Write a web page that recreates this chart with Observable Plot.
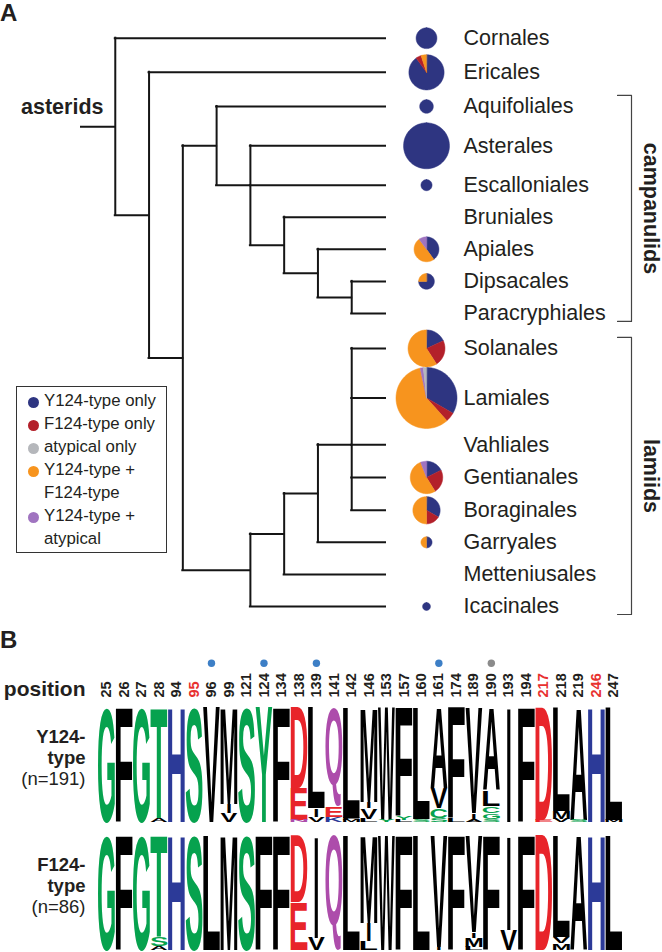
<!DOCTYPE html>
<html><head><meta charset="utf-8">
<script src="https://cdn.jsdelivr.net/npm/d3@7"></script>
<script src="https://cdn.jsdelivr.net/npm/@observablehq/plot@0.6"></script>
<style>
body{margin:0;background:#fff;font-family:"Liberation Sans",Arial,Helvetica,sans-serif;color:#231f20}
#wrap{position:relative;width:662px;height:952px;overflow:hidden;background:#fff}
#plotA svg,#plotB svg{display:block}
.panel{position:absolute;font-weight:bold;font-size:24px;line-height:1}
#legend{position:absolute;left:16px;top:386px;width:151px;height:167px;border:1px solid #333;box-sizing:border-box}
#legend .t{position:absolute;font-size:16.8px;line-height:1;white-space:nowrap}
#legend .d{position:absolute;width:11px;height:11px;border-radius:50%}
</style></head><body>
<div id="wrap">
  <div id="plotA"></div>
  <div id="plotB"></div>
  <div class="panel" style="left:0px;top:1px">A</div>
  <div class="panel" style="left:0px;top:628px">B</div>
  <div id="legend"></div>
</div>
<script>
// ================= DATA =================
// Panel A: orders (tree leaves, top to bottom)
const orders = ["Cornales","Ericales","Aquifoliales","Asterales","Escalloniales","Bruniales","Apiales","Dipsacales","Paracryphiales","Solanales","Lamiales","Vahliales","Gentianales","Boraginales","Garryales","Metteniusales","Icacinales"];
// number of sequences per category (pie slices, drawn clockwise from 12 o'clock in this order)
const yOnly    = [7,18,3,34,2,0,4,3,0,4,20,0,3,4,1,0,1];
const fOnly    = [0,1,0,0,0,0,0,0,0,5,3,0,4,2,0,0,0];
const yAndF    = [0,1,0,0,0,0,5,1,0,13,35,0,9,6,1,0,0];
const yAndAtyp = [0,0,0,0,0,0,1,0,0,0,1,0,1,0,0,0,0];
const atypOnly = [0,0,0,0,0,0,0,0,0,0,1,0,0,0,0,0,0];
const sliceSeries = [["Y124-type only", yOnly], ["F124-type only", fOnly], ["Y124-type + F124-type", yAndF], ["Y124-type + atypical", yAndAtyp], ["atypical only", atypOnly]];
const legendKeys  = ["Y124-type only","F124-type only","atypical only","Y124-type + F124-type","Y124-type + atypical"];
const legendLines = [["Y124-type only"],["F124-type only"],["atypical only"],["Y124-type +","F124-type"],["Y124-type +","atypical"]];
const catColor = {"Y124-type only":"#2e3581","F124-type only":"#b3202a","atypical only":"#b5b7bb","Y124-type + F124-type":"#f7941e","Y124-type + atypical":"#a074c0"};
// cladogram topology (nested lists)
const topology = ["Cornales", ["Ericales", [["Aquifoliales", ["Asterales","Escalloniales", ["Bruniales", ["Apiales", ["Dipsacales","Paracryphiales"]]]]], [[[["Solanales","Lamiales","Vahliales","Gentianales","Boraginales"],"Garryales"],"Metteniusales"],"Icacinales"]]]];
const rootName = "asterids";
const cladeNames = ["campanulids","lamiids"];
const cladeFirst = ["Aquifoliales","Solanales"];
const cladeLast  = ["Paracryphiales","Icacinales"];

// Panel B: sequence logos
const positions = ["25","26","27","28","94","95","96","99","121","124","134","138","139","141","142","146","153","157","160","161","174","189","190","193","194","217","218","219","246","247"];
const redPositions = ["95","217","246"];
const bluePositions = ["96","124","139","161"];
const greyPositions = ["190"];
const rowKeys = ["Y124","F124"];
const rowTitle = ["Y124-","F124-"];
const rowSub = ["type","type"];
const rowN = ["(n=191)","(n=86)"];
// residue:probability, top to bottom within each column
const logoY124 = ["G:1","F:1","G:1","T:.96 A:.04","H:1","S:1","V:1","M:.84 I:.08 V:.08","S:1","Y:1","F:1","D:.7 E:.28 N:.02","L:.88 I:.07 V:.05","Q:.86 E:.09 K:.05","L:.96 F:.02 M:.02","M:.82 I:.06 V:.09 L:.03","W:.98 Y:.02","F:.95 Y:.03 L:.02","L:.97 S:.03","A:.7 V:.18 C:.08 S:.04","F:.97 L:.03","V:.92 I:.05 A:.03","A:.72 L:.14 C:.06 G:.05 S:.03","I:1","F:1","D:.98 E:.02","L:.9 M:.07 V:.03","A:.98 S:.02","H:1","L:.98 M:.02"];
const logoF124 = ["G:1","F:1","G:1","T:.88 S:.08 A:.04","H:1","S:1","L:1","M:1","S:1","F:1","F:1","D:.58 E:.42","I:.89 V:.11","Q:1","L:1","M:.76 I:.16 L:.08","W:1","F:1","L:1","V:.97 I:.03","F:1","V:.84 I:.05 M:.08 L:.03","F:1","I:.82 V:.18","F:1","D:1","L:.88 V:.06 M:.06","A:1","H:1","L:1"];
const aaGroups = [["GSTYC","#06a24e"],["NQ","#ad4cab"],["KRH","#2c3a98"],["DE","#e8242a"]];

// ================= PANEL A =================
const FONT = '"Liberation Sans", Arial, Helvetica, sans-serif';
const X0 = 81, X9 = 385, YTOP = 37.7, YBOT = 606;
const PIE_DX = 41, LABEL_DX = 78, BR_IN = 232, BR_OUT = 246, CLADE_DX = 265;

const totals = orders.map((_, i) => d3.sum(sliceSeries, s => s[1][i]));
const rScale = d3.scaleSqrt().domain([0, 60]).range([0, 30.5]);
const radius = totals.map(t => rScale(t));
const half = radius.map(r => Math.max(16.5, r + 1));
const cum = [0];
for (let i = 1; i < orders.length; i++) cum.push(cum[i-1] + half[i-1] + half[i]);
const leafY = Object.fromEntries(orders.map((o, i) => [o, cum[i]]));

const root = d3.hierarchy(topology, d => Array.isArray(d) ? d : null);
const depthMax = root.height + 1;
root.eachAfter(n => {
  if (!n.children) n.ly = leafY[n.data];
  else {
    const ys = n.children.map(c => c.ly).sort((a, b) => a - b), m = ys.length;
    n.ly = m % 2 ? ys[(m - 1) / 2] : (ys[m/2 - 1] + ys[m/2]) / 2;
  }
  n.lx = depthMax - n.height;
});
const kx = (X9 - X0) / depthMax;
const ky = (YBOT - YTOP) / (cum[cum.length-1] - cum[0]);

const hSegs = [{y: root.ly, x1: 0, x2: root.lx}];
const vSegs = [];
root.each(n => {
  if (n.parent) hSegs.push({y: n.ly, x1: n.parent.lx, x2: n.lx});
  if (n.children) {
    const ys = n.children.map(c => c.ly);
    vSegs.push({x: n.lx, y1: d3.min(ys), y2: d3.max(ys)});
  }
});
const leaves = root.leaves().map(n => ({name: n.data, x: n.lx, y: n.ly}));

const piePts = [];
orders.forEach((o, i) => {
  const tot = totals[i]; if (!tot) return;
  const r = radius[i], cx = depthMax + PIE_DX / kx, cy = leafY[o];
  let acc = 0;
  sliceSeries.forEach(([cat, vals]) => {
    const v = vals[i]; if (!v) return;
    const a0 = acc / tot * 2 * Math.PI, a1 = (acc + v) / tot * 2 * Math.PI; acc += v;
    const key = o + "|" + cat;
    const n = Math.max(3, Math.ceil((a1 - a0) / (2 * Math.PI) * 120));
    if (v !== tot) piePts.push({key, cat, x: cx, y: cy});
    for (let k = 0; k <= n; k++) {
      const a = a0 + (a1 - a0) * k / n;
      piePts.push({key, cat, x: cx + r * Math.sin(a) / kx, y: cy - r * Math.cos(a) / ky});
    }
  });
});

const brPts = [], cladeLab = [];
cladeNames.forEach((name, i) => {
  const top = leafY[cladeFirst[i]] - 11 / ky, bot = leafY[cladeLast[i]] + 8 / ky;
  const xi = depthMax + BR_IN / kx, xo = depthMax + BR_OUT / kx;
  brPts.push({name, x: xi, y: top}, {name, x: xo, y: top}, {name, x: xo, y: bot}, {name, x: xi, y: bot});
  cladeLab.push({name, x: depthMax + CLADE_DX / kx, y: (top + bot) / 2});
});

const plotA = Plot.plot({
  width: 662, height: 625, margin: 0,
  x: {domain: [0, depthMax], range: [X0, X9], axis: null},
  y: {domain: [cum[0], cum[cum.length-1]], range: [YTOP, YBOT], axis: null},
  color: {type: "identity"},
  style: {fontFamily: FONT, background: "transparent"},
  marks: [
    Plot.ruleY(hSegs, {y: "y", x1: "x1", x2: "x2", stroke: "#151515", strokeWidth: 2, strokeLinecap: "square"}),
    Plot.ruleX(vSegs, {x: "x", y1: "y1", y2: "y2", stroke: "#151515", strokeWidth: 2, strokeLinecap: "square"}),
    Plot.line(piePts, {x: "x", y: "y", z: "key", fill: d => catColor[d.cat], stroke: d => catColor[d.cat], strokeWidth: 0.5, curve: "linear-closed"}),
    Plot.text(leaves, {x: "x", y: "y", text: "name", dx: LABEL_DX, textAnchor: "start", fontSize: 21.5, fill: "#231f20"}),
    Plot.text([{x: 0, y: root.ly, t: rootName}], {x: "x", y: "y", text: "t", textAnchor: "end", dx: 22, dy: -20, fontSize: 21.5, fontWeight: "bold", fill: "#231f20"}),
    Plot.line(brPts, {x: "x", y: "y", z: "name", stroke: "#444", strokeWidth: 1.2}),
    Plot.text(cladeLab, {x: "x", y: "y", text: "name", rotate: 90, fontSize: 21.5, fontWeight: "bold", fill: "#231f20"})
  ]
});
document.getElementById("plotA").appendChild(plotA);

// legend (inside panel A, as in the reference)
const legend = document.getElementById("legend");
let line = 0;
legendKeys.forEach((k, i) => {
  const dot = document.createElement("div");
  dot.className = "d"; dot.style.background = catColor[k];
  dot.style.left = (16 - 5.5) + "px"; dot.style.top = (15.7 + line * 22.9 - 5.5) + "px";
  legend.appendChild(dot);
  legendLines[i].forEach(txt => {
    const t = document.createElement("div");
    t.className = "t"; t.textContent = txt;
    t.style.left = "27px"; t.style.top = (15.7 + line * 22.9 - 9.5) + "px";
    legend.appendChild(t);
    line++;
  });
});

// ================= PANEL B =================
const aaColor = aa => { for (const [s, c] of aaGroups) if (s.includes(aa)) return c; return "#000"; };
const letters = [];
[logoY124, logoF124].forEach((cols, r) => {
  cols.forEach((col, i) => {
    let top = 1;
    col.split(" ").forEach(tok => {
      const [aa, f] = tok.split(":"); const p = +f;
      letters.push({row: rowKeys[r], pos: positions[i], aa, p, y: top - p / 2});
      top -= p;
    });
  });
});
const posLab = positions.map(p => ({row: rowKeys[0], pos: p, col: redPositions.includes(p) ? "#e8312f" : "#231f20"}));
const marks = [
  ...bluePositions.map(p => ({row: rowKeys[0], pos: p, c: "#3d7fc6"})),
  ...greyPositions.map(p => ({row: rowKeys[0], pos: p, c: "#8b8b8b"}))
];
const rowLab = rowKeys.map((k, i) => ({row: k, a: rowTitle[i], b: rowSub[i], n: rowN[i]}));

const plotB = Plot.plot({
  width: 662, height: 327,
  marginLeft: 97.3, marginRight: 40, marginTop: 82, marginBottom: 2,
  x: {type: "band", domain: positions, padding: 0, round: false, axis: null},
  y: {domain: [0, 1], axis: null},
  fy: {domain: rowKeys, axis: null, paddingInner: 0.1016, paddingOuter: 0, round: false},
  color: {type: "identity"},
  style: {fontFamily: FONT, background: "transparent"},
  marks: [
    Plot.text(letters, {x: "pos", y: "y", fy: "row", text: "aa", fill: d => aaColor(d.aa), fontSize: d => d.p * 100, fontWeight: "bold", fontFamily: FONT, ariaDescription: "logo"}),
    Plot.text(posLab, {x: "pos", y: 1, fy: "row", text: "pos", fill: "col", rotate: -90, textAnchor: "start", dy: -10, fontSize: 14.5, fontWeight: "bold"}),
    Plot.dot(marks, {x: "pos", y: 1, fy: "row", fill: "c", r: 3.7, dy: -44.3, stroke: null}),
    Plot.text([{row: rowKeys[0], t: "position"}], {y: 1, fy: "row", frameAnchor: "left", text: "t", textAnchor: "end", dx: -12.3, dy: -18, fontSize: 21, fontWeight: "bold", fill: "#231f20"}),
    Plot.text(rowLab, {y: 0.5, fy: "row", frameAnchor: "left", text: "a", textAnchor: "end", dx: -12.3, dy: -28, fontSize: 18.5, fontWeight: "bold", fill: "#231f20"}),
    Plot.text(rowLab, {y: 0.5, fy: "row", frameAnchor: "left", text: "b", textAnchor: "end", dx: -12.3, dy: -7, fontSize: 18.5, fontWeight: "bold", fill: "#231f20"}),
    Plot.text(rowLab, {y: 0.5, fy: "row", frameAnchor: "left", text: "n", textAnchor: "end", dx: -12.3, dy: 14, fontSize: 18.5, fill: "#231f20"})
  ]
});
document.getElementById("plotB").appendChild(plotB);

// stretch each logo glyph to fill its stack box (position from Plot's scales, height from the probability)
(function stretch() {
  let bw = 17.5, rowH = 115;
  try { const sx = plotB.scale("x"); if (sx && sx.bandwidth) bw = sx.bandwidth; } catch (e) {}
  try { const sf = plotB.scale("fy"); if (sf && sf.bandwidth) rowH = sf.bandwidth; } catch (e) {}
  const ctx = document.createElement("canvas").getContext("2d");
  ctx.font = "bold 100px " + FONT;
  const cache = {};
  const ink = ch => cache[ch] || (cache[ch] = (() => {
    const m = ctx.measureText(ch);
    return {l: -m.actualBoundingBoxLeft, r: m.actualBoundingBoxRight, t: -m.actualBoundingBoxAscent, b: m.actualBoundingBoxDescent};
  })());
  plotB.querySelectorAll('g[aria-description="logo"] text').forEach(el => {
    const ch = el.textContent;
    const tr = el.getAttribute("transform") || "";
    const m = /translate\(\s*([-\d.e]+)[\s,]+([-\d.e]+)\s*\)/.exec(tr);
    let cx, cy;
    if (m) { cx = +m[1]; cy = +m[2]; } else { cx = +(el.getAttribute("x") || 0); cy = +(el.getAttribute("y") || 0); }
    const fs = parseFloat(el.getAttribute("font-size") || el.style.fontSize || "0");
    const h = fs / 100 * rowH;
    const g = ink(ch);
    const iw = g.r - g.l, ih = g.b - g.t;
    const tw = ch === "I" ? bw * 0.2 : bw - 0.6;
    const sx = tw / iw, sy = Math.max(h - 0.4, 0.3) / ih;
    el.removeAttribute("x"); el.removeAttribute("y"); el.removeAttribute("dy");
    el.setAttribute("font-size", "100");
    el.style.fontSize = "100px";
    el.setAttribute("text-anchor", "start");
    el.style.textAnchor = "start";
    el.setAttribute("transform", `translate(${cx},${cy}) scale(${sx},${sy}) translate(${-(g.l + g.r) / 2},${-(g.t + g.b) / 2})`);
  });
})();
</script>
</body></html>
